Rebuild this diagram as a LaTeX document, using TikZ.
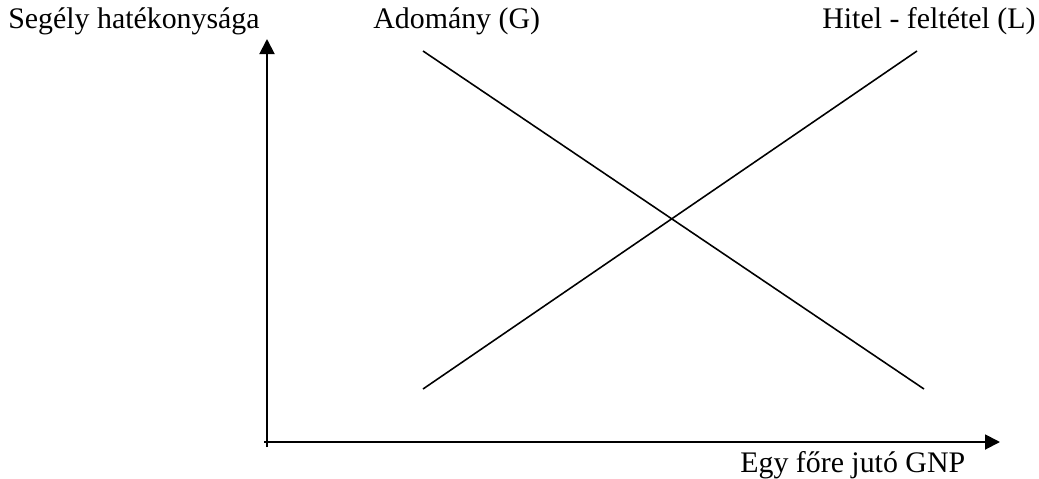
\documentclass[tikz,border=0pt]{standalone}
\usepackage{fontspec}
\setmainfont{Liberation Serif}
\usetikzlibrary{arrows.meta,positioning}

\begin{document}
\begin{tikzpicture}[x=0.02cm,y=-0.02cm,
    lbl/.style={anchor=base west,inner sep=0pt,font=\fontsize{17}{20}\selectfont},
    axis/.style={line width=1.1pt,-{Triangle[length=0.3cm,width=0.3cm]}},
    curve/.style={line width=0.9pt}]
  \useasboundingbox (0,0) rectangle (1039,478);
  % axes
  \coordinate (ybot) at (267,447);
  \coordinate (ytop) at (267,39);
  \coordinate (xleft) at (264,442);
  \coordinate (xright) at (1000,442);
  \draw[axis] (ybot) -- (ytop);
  \draw[axis] (xleft) -- (xright);
  % labels
  \node[lbl] (yl) at (8,28) {Segély hatékonysága};
  \node[lbl] (gl) at (373,28) {Adomány (G)};
  \node[lbl] (ll) at (822,28) {Hitel - feltétel (L)};
  \node[lbl] (xl) at (740,472) {Egy főre jutó GNP};
  % grant and loan lines
  \coordinate (g1) at (423,51);
  \coordinate (g2) at (924,389);
  \coordinate (l1) at (423,389);
  \coordinate (l2) at (917,51);
  \draw[curve] (g1) -- (g2);
  \draw[curve] (l1) -- (l2);
\end{tikzpicture}
\end{document}
